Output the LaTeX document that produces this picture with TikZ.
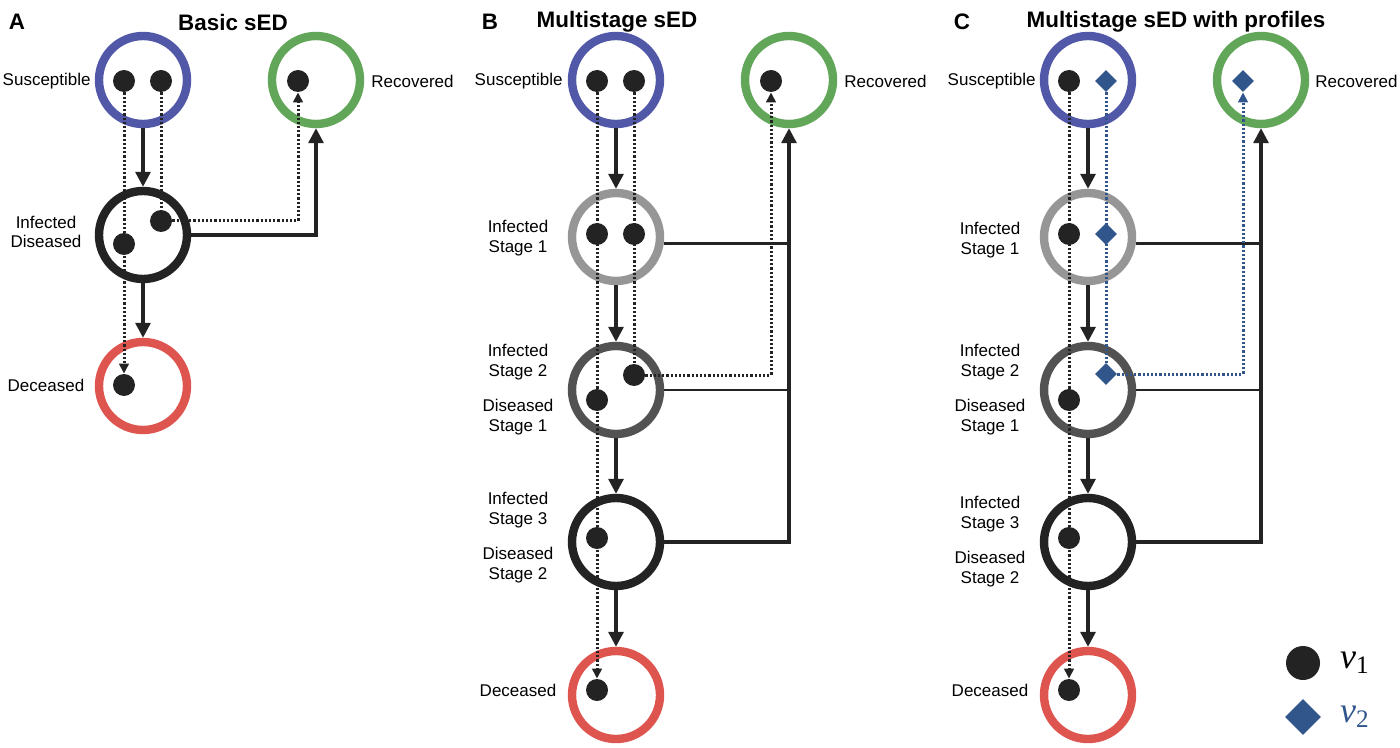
\documentclass[tikz,border=0pt]{standalone}
\usepackage{fontspec}
\setmainfont{Liberation Sans}
\newfontfamily\legendfont{Liberation Serif}
\usetikzlibrary{arrows.meta,shapes.geometric}
\definecolor{suscol}{RGB}{82,88,168}
\definecolor{reccol}{RGB}{98,166,90}
\definecolor{deccol}{RGB}{222,84,78}
\definecolor{infonecol}{RGB}{150,150,150}
\definecolor{inftwocol}{RGB}{82,82,82}
\definecolor{infthreecol}{RGB}{35,35,35}
\definecolor{vtwocol}{RGB}{48,86,140}
\definecolor{ink}{RGB}{35,35,35}
\begin{document}
\begin{tikzpicture}[x=0.5pt,y=-0.5pt,font=\fontsize{8.5}{9.8}\selectfont]
      \useasboundingbox (0,0) rectangle (1400,748);
      %compartments, individuals and flows
      \tikzset{
      ring/.style={circle, draw=#1, line width=4.2pt, minimum size=44pt, inner sep=0pt},
      dot/.style={circle, fill=ink, minimum size=11pt, inner sep=0pt},
      gem/.style={diamond, fill=vtwocol, minimum size=11pt, inner sep=0pt},
      flow/.style={draw=ink, line width=1.6pt, -{Triangle[width=7.5pt,length=7.5pt]}},
      link/.style={draw=ink, line width=1.4pt},
      trace/.style={draw=ink, line width=1.5pt, dash pattern=on 1.1pt off 1pt},
      bluetrace/.style={trace, draw=vtwocol},
      tip/.style={-{Triangle[width=4.8pt,length=5pt]}},
      heading/.style={font=\fontsize{11.2}{13}\selectfont\bfseries},
      lbl/.style={align=center, inner sep=0pt},
      }

      %Panel A - Basic sED
      \node[heading] (hA) at (17,22) {A};
      \node[heading] (tA) at (233,22) {Basic sED};
      \node[ring=suscol] (sA) at (143,80) {};
      \node[ring=reccol] (rA) at (316,80) {};
      \node[ring=infthreecol] (iA) at (143,235) {};
      \node[ring=deccol] (dA) at (143,386) {};
      \node[lbl, anchor=east] (lsA) at (91,81) {Susceptible};
      \node[lbl, anchor=west] (lrA) at (371,81) {Recovered};
      \node[lbl] (liA) at (46,232) {Infected\\Diseased};
      \node[lbl] (ldA) at (46,385) {Deceased};
      %individuals
      \node[dot] (sA1) at (124,81) {};
      \node[dot] (sA2) at (161,81) {};
      \node[dot] (rA1) at (298,81) {};
      \node[dot] (iA1) at (161,221) {};
      \node[dot] (iA2) at (124,244) {};
      \node[dot] (dA1) at (124,385) {};
      %flows
      \draw[flow] (sA) -- (iA);
      \draw[flow] (iA) -- (dA);
      \draw[flow] (iA) -| (rA);
      %paths of individuals
      \draw[trace, tip] (sA1) -- (dA1);
      \draw[trace] (sA2) -- (iA1);
      \draw[trace, tip] (iA1) -| (rA1);

      %Panel B - Multistage sED
      \node[heading] (hB) at (490,22) {B};
      \node[heading] (tB) at (617,22) {Multistage sED};
      \node[ring=suscol] (sB) at (616,80) {};
      \node[ring=reccol] (rB) at (789,80) {};
      \node[ring=infonecol] (i1B) at (616,237) {};
      \node[ring=inftwocol] (i2B) at (616,390) {};
      \node[ring=infthreecol] (i3B) at (616,542) {};
      \node[ring=deccol] (dB) at (616,695) {};
      \node[lbl, anchor=east] (lsB) at (563,81) {Susceptible};
      \node[lbl, anchor=west] (lrB) at (844,81) {Recovered};
      \node[lbl] (li1B) at (518,238) {Infected\\Stage 1};
      \node[lbl] (li2B) at (518,362) {Infected\\Stage 2};
      \node[lbl] (ld1B) at (518,417) {Diseased\\Stage 1};
      \node[lbl] (li3B) at (518,510) {Infected\\Stage 3};
      \node[lbl] (ld2B) at (518,565) {Diseased\\Stage 2};
      \node[lbl] (ldB) at (518,690) {Deceased};
      %individuals
      \node[dot] (sB1) at (597,81) {};
      \node[dot] (sB2) at (634,81) {};
      \node[dot] (rB1) at (771,81) {};
      \node[dot] (i1B1) at (597,234) {};
      \node[dot] (i1B2) at (634,234) {};
      \node[dot] (i2B1) at (634,375) {};
      \node[dot] (i2B2) at (597,400) {};
      \node[dot] (i3B1) at (597,538) {};
      \node[dot] (dB1) at (597,690) {};
      %flows
      \draw[flow] (sB) -- (i1B);
      \draw[flow] (i1B) -- (i2B);
      \draw[flow] (i2B) -- (i3B);
      \draw[flow] (i3B) -- (dB);
      \draw[flow] (i3B) -| (rB);
      \draw[link] (i1B.-8) -- (i1B.-8 -| rB);
      \draw[link] (i2B) -- (i2B -| rB);
      %paths of individuals
      \draw[trace, tip] (sB1) -- (dB1);
      \draw[trace] (sB2) -- (i2B1);
      \draw[trace, tip] (i2B1) -| (rB1);

      %Panel C - Multistage sED with profiles
      \node[heading] (hC) at (962,22) {C};
      \node[heading] (tC) at (1176,22) {Multistage sED with profiles};
      \node[ring=suscol] (sC) at (1088,80) {};
      \node[ring=reccol] (rC) at (1261,80) {};
      \node[ring=infonecol] (i1C) at (1088,237) {};
      \node[ring=inftwocol] (i2C) at (1088,390) {};
      \node[ring=infthreecol] (i3C) at (1088,542) {};
      \node[ring=deccol] (dC) at (1088,695) {};
      \node[lbl, anchor=east] (lsC) at (1036,81) {Susceptible};
      \node[lbl, anchor=west] (lrC) at (1315,81) {Recovered};
      \node[lbl] (li1C) at (990,240) {Infected\\Stage 1};
      \node[lbl] (li2C) at (990,362) {Infected\\Stage 2};
      \node[lbl] (ld1C) at (990,417) {Diseased\\Stage 1};
      \node[lbl] (li3C) at (990,514) {Infected\\Stage 3};
      \node[lbl] (ld2C) at (990,569) {Diseased\\Stage 2};
      \node[lbl] (ldC) at (990,690) {Deceased};
      %individuals
      \node[dot] (sC1) at (1069,81) {};
      \node[gem] (sC2) at (1106,81) {};
      \node[gem] (rC1) at (1243,81) {};
      \node[dot] (i1C1) at (1069,234) {};
      \node[gem] (i1C2) at (1106,234) {};
      \node[gem] (i2C1) at (1106,374) {};
      \node[dot] (i2C2) at (1069,400) {};
      \node[dot] (i3C1) at (1069,538) {};
      \node[dot] (dC1) at (1069,690) {};
      %flows
      \draw[flow] (sC) -- (i1C);
      \draw[flow] (i1C) -- (i2C);
      \draw[flow] (i2C) -- (i3C);
      \draw[flow] (i3C) -- (dC);
      \draw[flow] (i3C) -| (rC);
      \draw[link] (i1C.-8) -- (i1C.-8 -| rC);
      \draw[link] (i2C) -- (i2C -| rC);
      %paths of individuals
      \draw[trace, tip] (sC1) -- (dC1);
      \draw[bluetrace] (sC2) -- (i2C1);
      \draw[bluetrace, tip] (i2C1) -| (rC1);

      %legend
      \node[dot, minimum size=17pt] (kone) at (1303,663) {};
      \node[gem, minimum size=18pt] (ktwo) at (1303,717) {};
      \node[anchor=west, font=\legendfont\fontsize{18}{20}\selectfont] (vone) at (1333,663) {\textit{v}\textsubscript{1}};
      \node[anchor=west, text=vtwocol, font=\legendfont\fontsize{18}{20}\selectfont] (vtwo) at (1333,717) {\textit{v}\textsubscript{2}};
\end{tikzpicture}
\end{document}
